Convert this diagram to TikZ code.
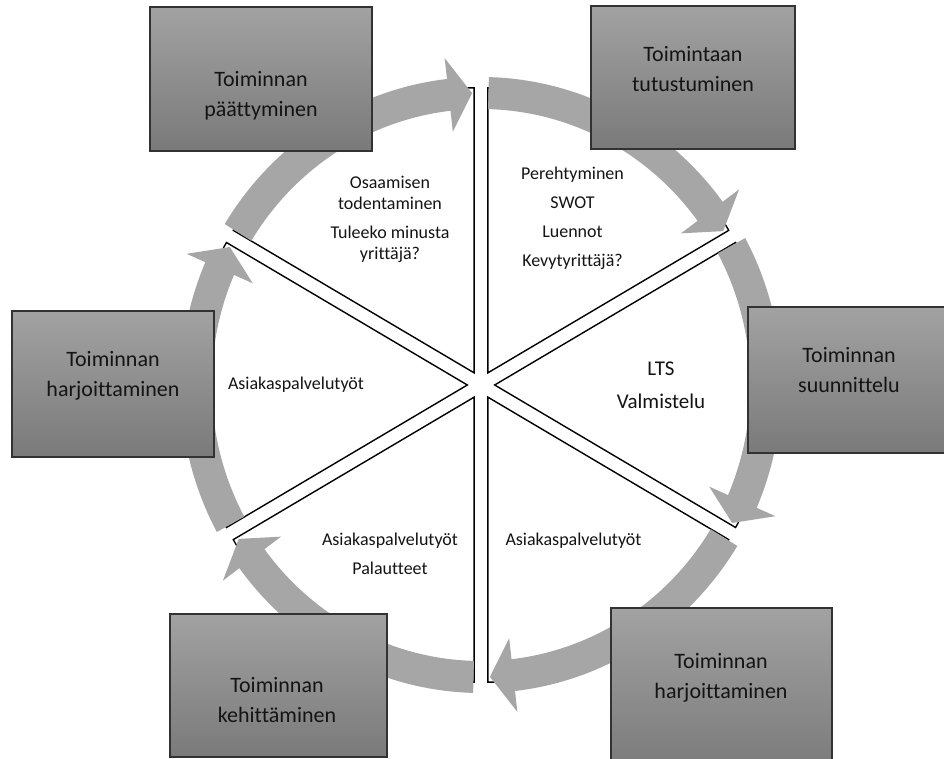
\documentclass[tikz,border=0pt]{standalone}
\usepackage{fontspec}
\setmainfont{Carlito}[Ligatures=NoCommon]
\definecolor{arrowgray}{RGB}{166,166,166}
\definecolor{boxtop}{RGB}{162,162,162}
\definecolor{boxbot}{RGB}{122,122,122}
\definecolor{boxline}{RGB}{50,50,50}
\definecolor{txt}{RGB}{20,20,20}
\newcommand\stacklines[2][21pt]{\vtop{\baselineskip=#1\relax\halign{\hfil##\hfil\cr#2\crcr}}}
\tikzset{
  boxnode/.style={rectangle, draw=boxline, line width=1.2pt, top color=boxtop, bottom color=boxbot, inner sep=0pt},
  boxtext/.style={anchor=base, inner sep=0pt, text=txt, font=\fontsize{22}{30}\selectfont},
  segtext/.style={anchor=base, inner sep=0pt, text=txt, font=\fontsize{18}{21}\selectfont},
  wedgeshape/.style={draw=black, line width=1.4pt, fill=white},
  ringarrow/.style={fill=arrowgray},
}
\begin{document}
\begin{tikzpicture}[x=1pt,y=1pt]
\useasboundingbox (0,0) rectangle (944,758);
\fill[white] (0,0) rectangle (944,758);
\clip (0,0) rectangle (944,758);
% ring
\begin{scope}[shift={(481,373)}, xscale=0.976]
  \foreach \ang in {60,0,-60,-120,180,120}{
    \draw[wedgeshape] (\ang:14) -- ++(\ang+30:285) arc[start angle=\ang+30, end angle=\ang-30, radius=285] -- cycle;
  }
  \foreach \ang in {60,0,-60,-120,180,120}{
    \pgfmathsetmacro\angA{\ang+28.5}
    \pgfmathsetmacro\angB{\ang-23.5}
    \pgfmathsetmacro\angC{\ang-28.2}
    \fill[ringarrow] (\angA:308) arc[start angle=\angA, end angle=\angB, radius=308]
      -- (\angB:329) -- (\angC:292) -- (\angB:255) -- (\angB:276)
      arc[start angle=\angB, end angle=\angA, radius=276] -- cycle;
  }
\end{scope}
% boxes
\node[boxnode, minimum width=222pt, minimum height=144pt] (b1) at (261,679) {};
\node[boxnode, minimum width=204pt, minimum height=143pt] (b2) at (693,680.5) {};
\node[boxnode, minimum width=202pt, minimum height=146pt] (b3) at (849,378) {};
\node[boxnode, minimum width=221pt, minimum height=165pt] (b4) at (721.5,67.5) {};
\node[boxnode, minimum width=202pt, minimum height=146pt] (b5) at (113,374) {};
\node[boxnode, minimum width=217pt, minimum height=143pt] (b6) at (278.5,72.5) {};
% box texts
\node[boxtext] (t1) at (261,671) {\stacklines[30pt]{Toiminnan\cr päättyminen}};
\node[boxtext] (t2) at (693,696) {\stacklines[30pt]{Toimintaan\cr tutustuminen}};
\node[boxtext] (t3) at (849,395) {\stacklines[30pt]{Toiminnan\cr suunnittelu}};
\node[boxtext] (t4) at (721,90) {\stacklines[30pt]{Toiminnan\cr harjoittaminen}};
\node[boxtext] (t5) at (113,391) {\stacklines[30pt]{Toiminnan\cr harjoittaminen}};
\node[boxtext] (t6) at (277,66) {\stacklines[30pt]{Toiminnan\cr kehittäminen}};
% segment texts
\node[segtext] (s1) at (390,569) {\stacklines[21pt]{Osaamisen\cr todentaminen\cr\noalign{\vskip7.5pt}Tuleeko minusta\cr yrittäjä?}};
\node[segtext] (s2) at (572.5,578) {\stacklines[21pt]{Perehtyminen\cr\noalign{\vskip8pt}SWOT\cr\noalign{\vskip8pt}Luennot\cr\noalign{\vskip8pt}Kevytyrittäjä?}};
\node[segtext, font=\fontsize{21}{26}\selectfont] (s3) at (661,382) {\stacklines[33pt]{LTS\cr Valmistelu}};
\node[segtext] (s4) at (573.5,213) {Asiakaspalvelutyöt};
\node[segtext] (s5) at (390,213) {\stacklines[21pt]{Asiakaspalvelutyöt\cr\noalign{\vskip8pt}Palautteet}};
\node[segtext] (s6) at (296,368) {Asiakaspalvelutyöt};
\end{tikzpicture}
\end{document}
